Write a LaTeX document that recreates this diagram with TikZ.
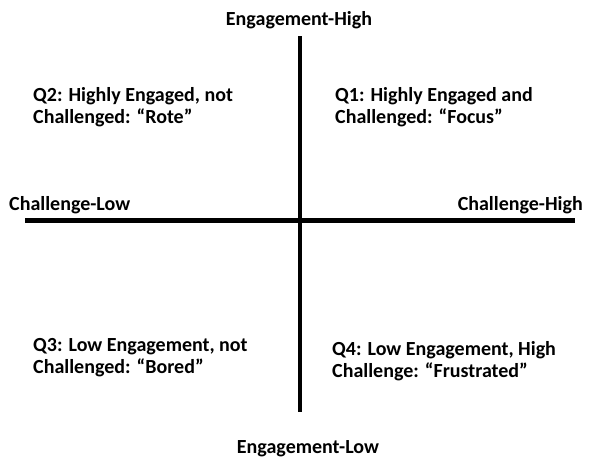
\documentclass[tikz,border=0pt]{standalone}
\usepackage{fontspec}
\setmainfont{Carlito}
\begin{document}
\begin{tikzpicture}[x=1pt,y=-1pt,
  lbl/.style={font=\bfseries\fontsize{20}{22.5}\selectfont, inner sep=0pt},
  quad/.style={lbl, anchor=base west, align=left},
  axis/.style={line width=4.5pt}]
\useasboundingbox (0,0) rectangle (595,461);
\coordinate (top) at (300,36);
\coordinate (bot) at (300,412);
\coordinate (lft) at (25,220.5);
\coordinate (rgt) at (575,220.5);
\draw[axis] (top) -- (bot);
\draw[axis] (lft) -- (rgt);
\node[lbl, anchor=base] (eh) at (299,25) {Engagement-High};
\node[lbl, anchor=base] (el) at (308,453) {Engagement-Low};
\node[lbl, anchor=base west] (cl) at (9,210) {Challenge-Low};
\node[lbl, anchor=base east] (ch) at (583,210) {Challenge-High};
\node[quad] (q2) at (33,123.5) {Q2: Highly Engaged, not\\Challenged: ``Rote''};
\node[quad] (q1) at (335,123.5) {Q1: Highly Engaged and\\Challenged: ``Focus''};
\node[quad] (q3) at (33,373.5) {Q3: Low Engagement, not\\Challenged: ``Bored''};
\node[quad] (q4) at (332,377.5) {Q4: Low Engagement, High\\Challenge: ``Frustrated''};
\end{tikzpicture}
\end{document}
